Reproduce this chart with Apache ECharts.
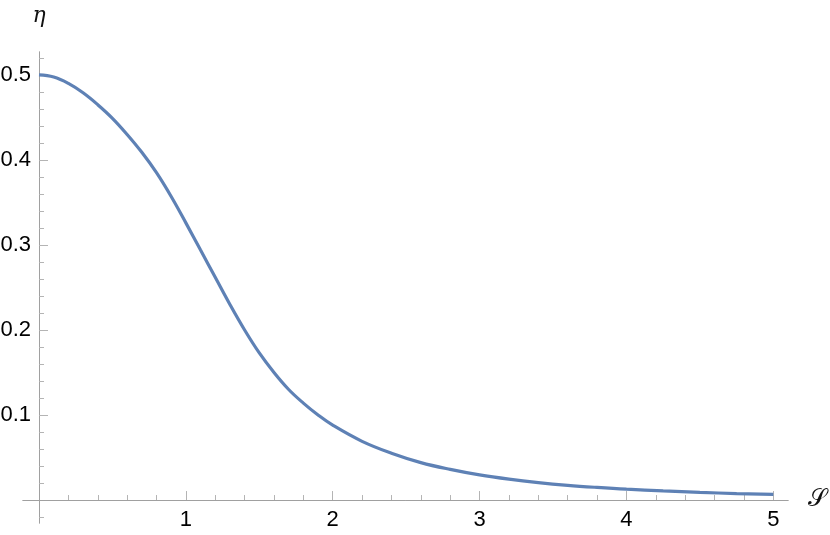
<!DOCTYPE html>
<html><head><meta charset="utf-8">
<script src="https://cdn.jsdelivr.net/npm/echarts@6/dist/echarts.min.js"></script>
<style>html,body{margin:0;padding:0;background:#fff}#c{width:830px;height:535px}</style>
</head><body><div id="c"></div>
<script>
const sValues   = [0, 0.1, 0.2, 0.3, 0.4, 0.5, 0.6, 0.7, 0.8, 0.9, 1.0, 1.1, 1.2, 1.3, 1.4, 1.5, 1.6, 1.7, 1.8, 1.9, 2.0, 2.2, 2.4, 2.6, 2.8, 3.0, 3.2, 3.4, 3.6, 3.8, 4.0, 4.25, 4.5, 4.75, 5.0];
const etaValues = [0.500, 0.4975, 0.490, 0.479, 0.465, 0.449, 0.430, 0.409, 0.385, 0.357, 0.326, 0.294, 0.262, 0.230, 0.200, 0.173, 0.150, 0.130, 0.114, 0.100, 0.088, 0.069, 0.055, 0.044, 0.036, 0.0295, 0.0245, 0.0205, 0.0173, 0.0148, 0.0127, 0.0107, 0.0090, 0.0076, 0.0065];
const xMajorTicks = [1, 2, 3, 4, 5];
const xMinorTicks = [0.2, 0.4, 0.6, 0.8, 1.2, 1.4, 1.6, 1.8, 2.2, 2.4, 2.6, 2.8, 3.2, 3.4, 3.6, 3.8, 4.2, 4.4, 4.6, 4.8];
const yMajorTicks = [0.1, 0.2, 0.3, 0.4, 0.5];
const yMinorTicks = [-0.02, 0.02, 0.04, 0.06, 0.08, 0.12, 0.14, 0.16, 0.18, 0.22, 0.24, 0.26, 0.28, 0.32, 0.34, 0.36, 0.38, 0.42, 0.44, 0.46, 0.48, 0.52];
const xName = '𝒮';
const yName = 'η';

const axisColor = '#a0a0a0';
const tickColor = '#b4b4b4';
const labelStyle = { color: '#000', fontSize: 22, fontFamily: 'Liberation Sans, Arial, sans-serif' };
const X_MIN_EXT = -0.109, X_MAX = 5.1, Y_MIN_EXT = -0.027, Y_MAX = 0.527;

function frameAxis(extra) {
  return Object.assign({
    type: 'value', gridIndex: 1,
    axisLine: { show: true, onZero: true, lineStyle: { color: axisColor, width: 1 } },
    axisLabel: { show: false },
    splitLine: { show: false }
  }, extra);
}

const chart = echarts.init(document.getElementById('c'), null, { renderer: 'canvas' });
chart.setOption({
  animation: false,
  backgroundColor: '#fff',
  grid: [
    { left: 39, top: 52, width: 749, height: 448, containLabel: false, outerBoundsMode: 'none' },
    { left: 23, top: 52, width: 765, height: 471, containLabel: false, outerBoundsMode: 'none' }
  ],
  xAxis: [
    {
      type: 'value', gridIndex: 0, position: 'bottom', min: 0, max: X_MAX,
      axisLine: { show: false, onZero: false },
      axisTick: { show: false },
      axisLabel: { show: true, customValues: xMajorTicks, margin: 9, ...labelStyle },
      splitLine: { show: false },
      name: xName, nameLocation: 'end', nameGap: 20,
      nameTextStyle: { fontSize: 24, fontFamily: 'DejaVu Serif, serif', color: '#111', verticalAlign: 'middle' }
    },
    frameAxis({ position: 'bottom', min: X_MIN_EXT, max: X_MAX,
      axisTick: { show: true, inside: true, length: 9, customValues: xMajorTicks, lineStyle: { color: tickColor } } }),
    frameAxis({ position: 'bottom', min: X_MIN_EXT, max: X_MAX,
      axisTick: { show: true, inside: true, length: 5, customValues: xMinorTicks, lineStyle: { color: tickColor } } })
  ],
  yAxis: [
    {
      type: 'value', gridIndex: 0, position: 'left', min: 0, max: Y_MAX,
      axisLine: { show: false, onZero: false },
      axisTick: { show: false },
      axisLabel: { show: true, customValues: yMajorTicks, margin: 8, ...labelStyle, formatter: v => v.toFixed(1) },
      splitLine: { show: false },
      name: yName, nameLocation: 'end', nameGap: 25,
      nameTextStyle: { fontSize: 22, fontFamily: 'DejaVu Serif, serif', fontStyle: 'italic', color: '#111', align: 'center' }
    },
    frameAxis({ position: 'left', min: Y_MIN_EXT, max: Y_MAX,
      axisTick: { show: true, inside: true, length: 9, customValues: yMajorTicks, lineStyle: { color: tickColor } } }),
    frameAxis({ position: 'left', min: Y_MIN_EXT, max: Y_MAX,
      axisTick: { show: true, inside: true, length: 5, customValues: yMinorTicks, lineStyle: { color: tickColor } } })
  ],
  series: [{
    type: 'line',
    xAxisIndex: 0, yAxisIndex: 0,
    data: sValues.map((s, i) => [s, etaValues[i]]),
    smooth: 0.4,
    showSymbol: false,
    clip: false,
    lineStyle: { color: '#5E81B5', width: 3.2, cap: 'butt' },
    z: 5
  }]
});
</script>
</body></html>
